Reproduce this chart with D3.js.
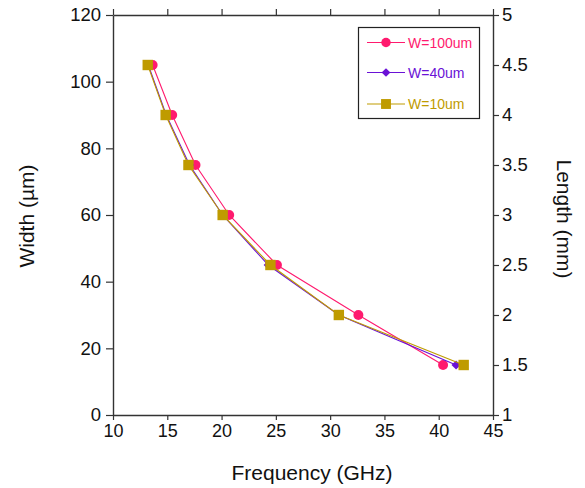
<!DOCTYPE html>
<html>
<head>
<meta charset="utf-8">
<script src="https://cdn.jsdelivr.net/npm/d3@7"></script>
<style>
  html, body { margin: 0; padding: 0; background: #fff; }
  svg { display: block; font-family: "Liberation Sans", Arial, sans-serif; }
</style>
</head>
<body>
<svg id="chart" width="585" height="488"></svg>
<script>
// Width steps shared by all series (µm)
const widths = [105, 90, 75, 60, 45, 30, 15];
// Resonant frequency (GHz) for each width, per line width W
const freqW100 = [13.65, 15.45, 17.6, 20.7, 25.1, 32.6, 40.4];
const freqW40  = [13.25, 14.9, 17.05, 20.1, 24.3, 30.8, 41.6];
const freqW10  = [13.2, 14.85, 16.95, 20.1, 24.5, 30.8, 42.3];

const seriesNames = ["W=100um", "W=40um", "W=10um"];
const seriesColors = ["#ff1a6e", "#6a12d6", "#bf9b00"];
const seriesShapes = ["circle", "diamond", "square"];
const seriesFreqs = [freqW100, freqW40, freqW10];

const xTicks = [10, 15, 20, 25, 30, 35, 40, 45];
const yTicks = [0, 20, 40, 60, 80, 100, 120];
const lengthTicks = [1, 1.5, 2, 2.5, 3, 3.5, 4, 4.5, 5];

const svg = d3.select("#chart");
const plotLeft = 113, plotRight = 493, plotTop = 15, plotBottom = 415;

const x = d3.scaleLinear().domain([10, 45]).range([plotLeft, plotRight]);
const y = d3.scaleLinear().domain([0, 120]).range([plotBottom, plotTop]);
const yLen = d3.scaleLinear().domain([1, 5]).range([plotBottom, plotTop]);

const axisColor = "#333";

function styleAxis(g, fontSize) {
  g.select(".domain").attr("stroke", axisColor).attr("stroke-width", 1.4);
  g.selectAll(".tick line").attr("stroke", axisColor).attr("stroke-width", 1.2);
  g.selectAll(".tick text").attr("fill", "#111").style("font-size", fontSize + "px")
    .style("font-family", "'Liberation Sans', Arial, sans-serif");
}

// bottom axis
const gx = svg.append("g").attr("transform", `translate(0,${plotBottom})`)
  .call(d3.axisBottom(x).tickValues(xTicks).tickSize(5).tickPadding(4).tickSizeOuter(0));
styleAxis(gx, 18);

// top axis (ticks only)
const gxt = svg.append("g").attr("transform", `translate(0,${plotTop})`)
  .call(d3.axisTop(x).tickValues(xTicks).tickSize(6).tickFormat("").tickSizeOuter(0));
styleAxis(gxt, 18);

// left axis
const gy = svg.append("g").attr("transform", `translate(${plotLeft},0)`)
  .call(d3.axisLeft(y).tickValues(yTicks).tickSize(7).tickPadding(5).tickSizeOuter(0));
styleAxis(gy, 18.5);

// right axis: length
const gyr = svg.append("g").attr("transform", `translate(${plotRight},0)`)
  .call(d3.axisRight(yLen).tickValues(lengthTicks).tickSize(6).tickPadding(3)
    .tickFormat(d => String(d)).tickSizeOuter(0));
styleAxis(gyr, 18.5);

// axis titles
svg.append("text").attr("x", 312).attr("y", 480)
  .attr("text-anchor", "middle").style("font-size", "21px").attr("fill", "#111")
  .text("Frequency (GHz)");
svg.append("text").attr("transform", "translate(27,216) rotate(-90)")
  .attr("text-anchor", "middle").attr("dy", "0.35em").style("font-size", "21px").attr("fill", "#111")
  .text("Width (µm)");
svg.append("text").attr("transform", "translate(564,219) rotate(90)")
  .attr("text-anchor", "middle").attr("dy", "0.35em").style("font-size", "21px").attr("fill", "#111")
  .text("Length (mm)");

// marker drawing
function marker(g, shape, cx, cy, color, scale) {
  const s = scale || 1;
  if (shape === "circle") {
    g.append("circle").attr("cx", cx).attr("cy", cy).attr("r", 5 * s).attr("fill", color);
  } else if (shape === "square") {
    const h = 5.2 * s;
    g.append("rect").attr("x", cx - h).attr("y", cy - h).attr("width", 2 * h).attr("height", 2 * h).attr("fill", color);
  } else {
    const h = 4.6 * s;
    g.append("path").attr("d", `M${cx},${cy - h}L${cx + h},${cy}L${cx},${cy + h}L${cx - h},${cy}Z`).attr("fill", color);
  }
}

const plot = svg.append("g");
seriesFreqs.forEach((freqs, i) => {
  const pts = widths.map((w, j) => [freqs[j], w]);
  plot.append("path").datum(pts)
    .attr("fill", "none").attr("stroke", seriesColors[i]).attr("stroke-width", 1.1)
    .attr("d", d3.line().x(d => x(d[0])).y(d => y(d[1])));
  const mg = plot.append("g");
  pts.forEach(p => marker(mg, seriesShapes[i], x(p[0]), y(p[1]), seriesColors[i]));
});

// legend
const legend = svg.append("g");
legend.append("rect").attr("x", 358.5).attr("y", 27.5).attr("width", 121).attr("height", 91)
  .attr("fill", "#fff").attr("stroke", "#222").attr("stroke-width", 1.2);
const rowY = [42.5, 72.5, 104];
seriesNames.forEach((name, i) => {
  const ry = rowY[i];
  legend.append("line").attr("x1", 367).attr("x2", 405).attr("y1", ry).attr("y2", ry)
    .attr("stroke", seriesColors[i]).attr("stroke-width", 1.1);
  marker(legend, seriesShapes[i], 386, ry, seriesColors[i], 0.95);
  legend.append("text").attr("x", 408).attr("y", ry).attr("dy", "0.36em")
    .style("font-size", "14px").attr("fill", seriesColors[i]).text(name);
});
</script>
</body>
</html>
